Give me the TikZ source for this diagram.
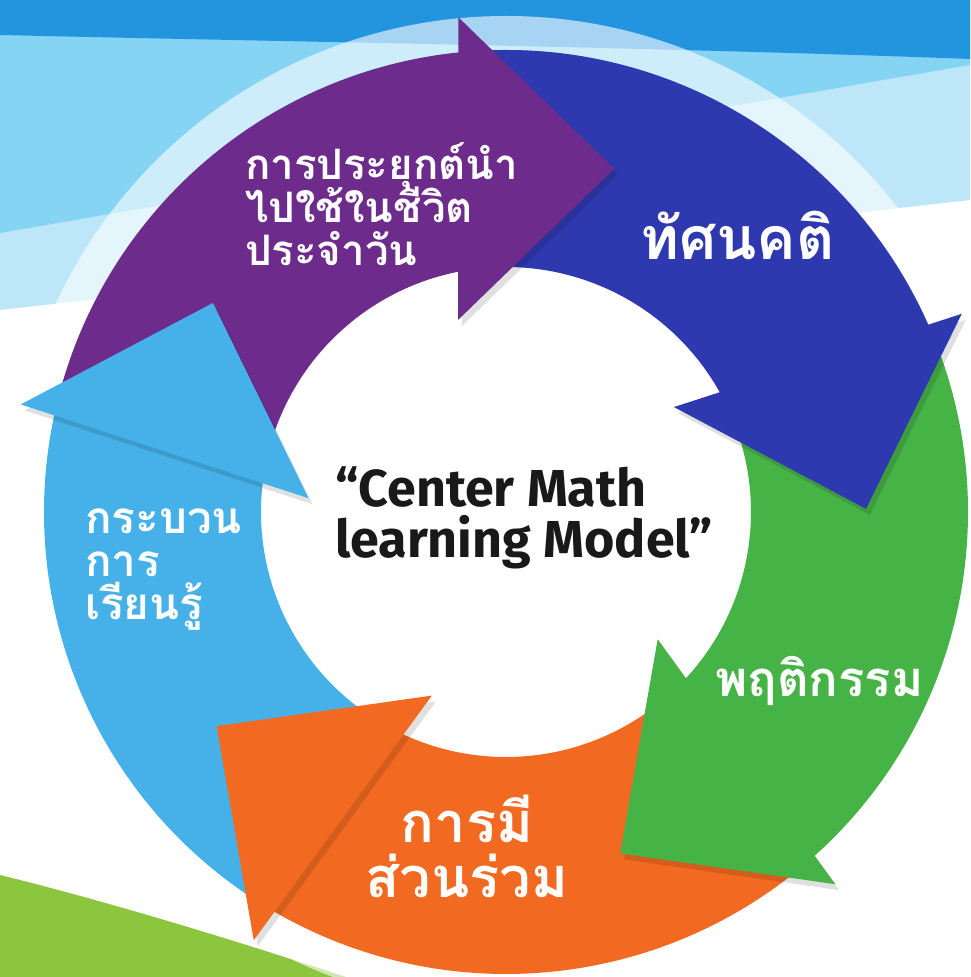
\documentclass[tikz,border=0pt]{standalone}
\usepackage{fontspec}
\setmainfont{Fira Sans}
\newfontfamily\thaifont[Script=Thai]{Loma}
\definecolor{skydark}{HTML}{2395DF}
\definecolor{skylight}{HTML}{85D4F4}
\definecolor{skypale}{HTML}{BDE7F8}
\definecolor{grass}{HTML}{8CC63F}
\definecolor{arrowsky}{HTML}{45B1E8}
\definecolor{arrowpurple}{HTML}{6D2B8B}
\definecolor{arrowblue}{HTML}{2E39B0}
\definecolor{arrowgreen}{HTML}{46B347}
\definecolor{arroworange}{HTML}{F26A21}
\newcommand\thaisize[2]{\thaifont\bfseries\fontsize{#1}{#2}\selectfont\lineskiplimit=-100pt}
\begin{document}
\begin{tikzpicture}[x=1pt,y=1pt]
	\tikzstyle{thai label}=[text=white,inner sep=0,font=\thaisize{44}{43}]
	\tikzstyle{title label}=[text=black!90,inner sep=0,align=left,font=\bfseries\fontsize{52}{51}\selectfont]
	\useasboundingbox (0,0) rectangle (970,977);
	% background bands
	\fill[white] (0,0) rectangle (970,977);
	\fill[skypale] (0,667) -- (970,777) -- (970,977) -- (0,977) -- cycle;
	\fill[skylight] (0,744) -- (970,912) -- (970,977) -- (0,977) -- cycle;
	\fill[skydark] (0,942) .. controls (300,935) and (650,930) .. (970,918) -- (970,977) -- (0,977) -- cycle;
	\fill[grass] (0,102) .. controls (110,75) and (240,35) .. (346,0) -- (0,0) -- cycle;
	\begin{scope}[shift={(506,465)}]
		% halo and centre
		\fill[white,opacity=0.6,even odd rule] (0,0) circle (496) (0,0) circle (462);
		\fill[white] (0,0) circle (245);
		% shafts
		\foreach \a/\col in {167.5/arrowsky,95.5/arrowpurple,23.5/arrowblue,-48.5/arrowgreen,-120.5/arroworange}
			\fill[\col] (\a+71.5:462) arc[start angle=\a+71.5,end angle=\a+0.3,radius=462]
				-- (\a+5.5:245) arc[start angle=\a+5.5,end angle=\a+68,radius=245] -- cycle;
		% heads with a soft shadow
		\foreach \a/\col in {167.5/arrowsky,95.5/arrowpurple,23.5/arrowblue,-48.5/arrowgreen,-120.5/arroworange}{
			\fill[black,opacity=0.12,shift={(4,-6)}] (\a:497) -- (\a-23:360) -- (\a+8.5:198) -- cycle;
			\fill[\col] (\a:497) -- (\a-23:360) -- (\a+8.5:198) -- cycle;
		}
	\end{scope}
	\node(apply)[thai label,anchor=base west,align=left,font=\thaisize{42}{43}] at (245,711) {การประยุกต์นำ\\ไปใช้ในชีวิต\\ประจำวัน};
	\node(attitude)[thai label,anchor=base west,font=\thaisize{59}{59}] at (640,717) {ทัศนคติ};
	\node(process)[thai label,anchor=base west,align=left] at (85,357) {กระบวน\\การ\\เรียนรู้};
	\node(behaviour)[thai label,anchor=base west,font=\thaisize{49}{49}] at (715,280) {พฤติกรรม};
	\node(share)[thai label,anchor=base,align=center,font=\thaisize{56}{55}] at (467,79) {การมี\\ส่วนร่วม};
	\node(model)[title label,anchor=base west] at (335,419) {“Center Math\\learning Model”};
\end{tikzpicture}
\end{document}
